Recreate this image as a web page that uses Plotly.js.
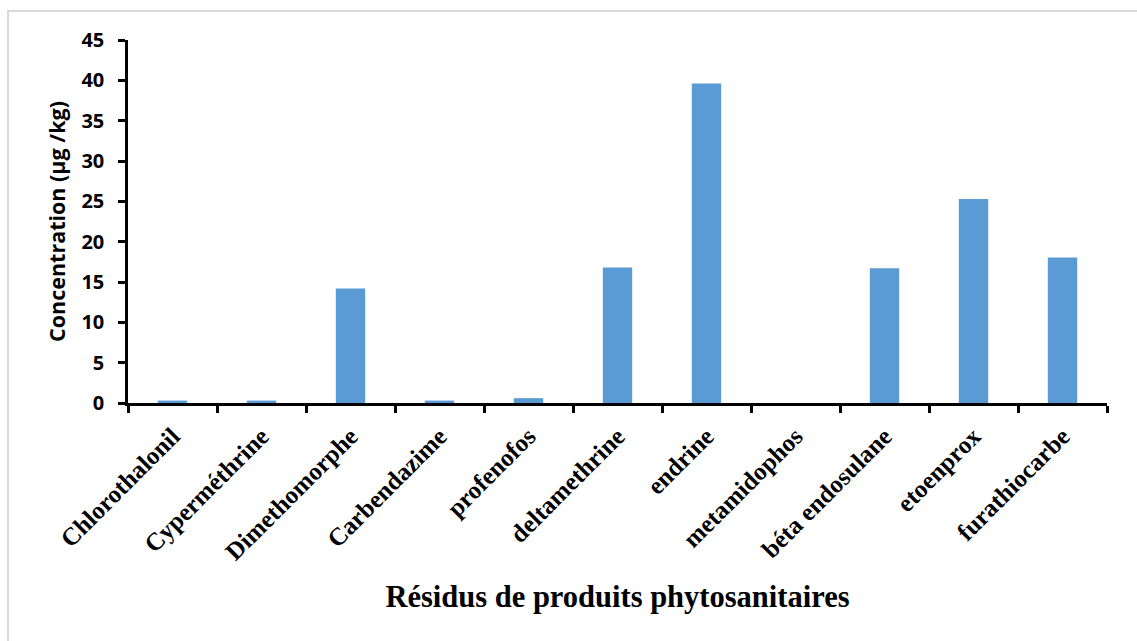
<!DOCTYPE html>
<html>
<head>
<meta charset="utf-8">
<script src="https://cdn.plot.ly/plotly-3.0.1.min.js"></script>
<style>
  html, body { margin: 0; padding: 0; background: #ffffff; }
  #frame { position: absolute; left: 7px; top: 10px; width: 1130px; height: 631px; border-top: 2px solid #d9d9d9; border-left: 2px solid #d9d9d9; box-sizing: border-box; }
  #chart { position: absolute; left: 0; top: 0; width: 1137px; height: 641px; }
</style>
</head>
<body>
<div id="frame"></div>
<div id="chart"></div>
<script>
const categories = ["Chlorothalonil", "Cyperméthrine", "Dimethomorphe", "Carbendazime", "profenofos",
  "deltamethrine", "endrine", "metamidophos", "béta endosulane", "etoenprox", "furathiocarbe"];
const concentrations = [0.3, 0.3, 14.2, 0.3, 0.6, 16.8, 39.6, 0.0, 16.7, 25.3, 18.05];
const yTickValues = [0, 5, 10, 15, 20, 25, 30, 35, 40, 45];
const xTitle = "Résidus de produits phytosanitaires";
const yTitle = "Concentration (µg /kg)";

const trace = {
  type: "bar",
  x: categories,
  y: concentrations,
  marker: { color: "#5B9BD5", line: { width: 0 } },
  hoverinfo: "x+y"
};

const layout = {
  width: 1137,
  height: 641,
  paper_bgcolor: "rgba(0,0,0,0)",
  plot_bgcolor: "rgba(0,0,0,0)",
  margin: { l: 128, r: 30, t: 40, b: 238, autoexpand: false },
  bargap: 0.67,
  showlegend: false,
  xaxis: {
    type: "category",
    tickangle: -45,
    tickson: "boundaries",
    ticks: "outside",
    ticklen: 7,
    tickwidth: 2.5,
    tickcolor: "#000",
    ticklabelstandoff: 6,
    showline: true,
    linecolor: "#000",
    linewidth: 2.5,
    showgrid: false,
    zeroline: false,
    automargin: false,
    tickfont: { family: "Liberation Serif, Times New Roman, serif", size: 25, color: "#000", weight: "bold" },
    title: {
      text: xTitle,
      font: { family: "Liberation Serif, Times New Roman, serif", size: 30.5, color: "#000", weight: "bold" },
      standoff: 22
    }
  },
  yaxis: {
    range: [0, 45],
    tickvals: yTickValues,
    ticks: "outside",
    ticklen: 7,
    tickwidth: 2.5,
    tickcolor: "#000",
    ticklabelstandoff: 10,
    showline: true,
    linecolor: "#000",
    linewidth: 2.5,
    showgrid: false,
    zeroline: false,
    automargin: false,
    tickfont: { family: "Open Sans, Liberation Sans, sans-serif", size: 20, color: "#000", weight: "bold" },
    title: {
      text: yTitle,
      font: { family: "Open Sans, Liberation Sans, sans-serif", size: 21.5, color: "#000", weight: "bold" },
      standoff: 10
    }
  }
};

Plotly.newPlot("chart", [trace], layout, { displayModeBar: false });
</script>
</body>
</html>
